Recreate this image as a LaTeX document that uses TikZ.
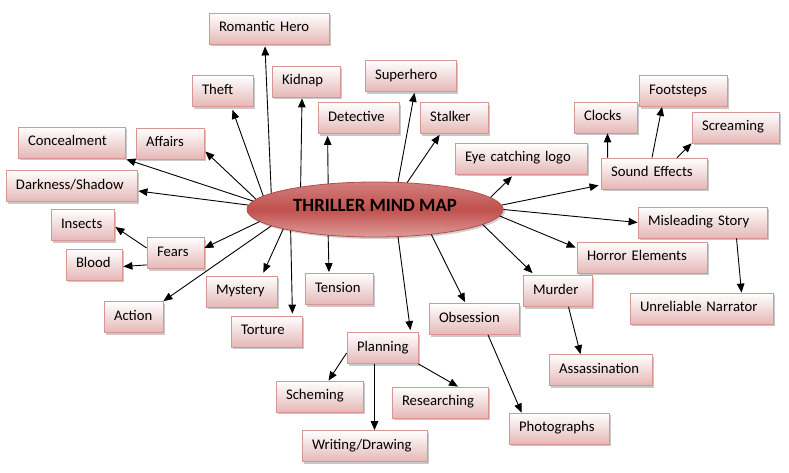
\documentclass[tikz,border=0pt]{standalone}
\usepackage{fontspec}
\setmainfont{Carlito}
\usetikzlibrary{arrows.meta,shapes.geometric,shadows}
\definecolor{edge}{HTML}{D99594}
\definecolor{pinkbot}{HTML}{E5B8B7}
\definecolor{ellTop}{HTML}{D2807E}
\definecolor{ellMid}{HTML}{C0504D}
\definecolor{ellBot}{HTML}{DE9C9A}
\definecolor{ellLine}{HTML}{B0504D}
\newcommand{\topicfont}{\fontsize{14.7}{17}\selectfont}
\tikzset{
  topic/.style={draw=edge,line width=0.8pt,top color=white,bottom color=pinkbot,
    minimum height=31pt,inner xsep=10pt,inner ysep=0pt,align=left,font=\topicfont,
    text height=10pt,text depth=4pt,
    drop shadow={shadow xshift=2pt,shadow yshift=-2pt,fill=black!30,opacity=0.7}},
  link/.style={line width=0.9pt,-{Triangle[length=9pt,width=7.5pt]}}
}

\begin{document}
\begin{tikzpicture}[x=1pt,y=-1pt]
  \useasboundingbox (0,0) rectangle (789,472);
  \node[ellipse,draw=ellLine,line width=0.8pt,top color=ellTop,bottom color=ellBot,middle color=ellMid,
    minimum width=256pt,minimum height=55pt,inner sep=0pt,text depth=8pt,
    font=\fontsize{18.7}{20}\selectfont\bfseries,
    drop shadow={shadow xshift=2pt,shadow yshift=-2pt,fill=black!30,opacity=0.6}] (c) at (375,209.5) {THRILLER MIND MAP};
  % top row
  \node[topic,text width=100pt] (rh) at (269,28.5) {Romantic Hero};
  \node[topic,text width=41pt] (theft) at (222.5,91) {Theft};
  \node[topic,text width=48pt] (kid) at (306,81.5) {Kidnap};
  \node[topic,text width=71pt] (sup) at (410.5,76) {Superhero};
  \node[topic,text width=61pt] (det) at (358.5,118) {Detective};
  \node[topic,text width=48pt] (stalk) at (454,118) {Stalker};
  % left side
  \node[topic,text width=87pt] (conc) at (71.5,142.5) {Concealment};
  \node[topic,text width=48pt] (aff) at (170,143.5) {Affairs};
  \node[topic,text width=111pt] (dark) at (71.5,186) {Darkness/Shadow};
  \node[topic,text width=43pt] (ins) at (82.5,225) {Insects};
  \node[topic,text width=36pt] (blood) at (94,264.5) {Blood};
  \node[topic,text width=37pt] (fears) at (175.5,253) {Fears};
  \node[topic,text width=39pt] (act) at (133.5,317) {Action};
  \node[topic,text width=51pt] (mys) at (241.5,291.5) {Mystery};
  \node[topic,text width=51pt] (tort) at (266.5,331.5) {Torture};
  \node[topic,text width=48pt] (tens) at (339,289) {Tension};
  % right side
  \node[topic,text width=112pt] (eye) at (521,158.5) {Eye catching logo};
  \node[topic,text width=43pt] (clk) at (605.5,117.5) {Clocks};
  \node[topic,text width=68pt] (foot) at (683,91) {Footsteps};
  \node[topic,text width=67pt] (scr) at (735.5,127.5) {Screaming};
  \node[topic,text width=86pt] (snd) at (654,173.5) {Sound Effects};
  \node[topic,text width=109pt] (mis) at (702.5,222.5) {Misleading Story};
  \node[topic,text width=110pt] (hor) at (642,257.5) {Horror Elements};
  \node[topic,text width=49pt] (mur) at (557.5,291) {Murder};
  \node[topic,text width=123pt] (unr) at (701.5,308.5) {Unreliable Narrator};
  \node[topic,text width=83pt] (ass) at (600.5,370) {Assassination};
  \node[topic,text width=70pt] (obs) at (474,319) {Obsession};
  \node[topic,text width=80pt] (pho) at (559,428.5) {Photographs};
  % bottom
  \node[topic,text width=51pt] (plan) at (382.5,348) {Planning};
  \node[topic,text width=67pt] (sch) at (319.5,396.5) {Scheming};
  \node[topic,text width=76pt] (res) at (440,402.5) {Researching};
  \node[topic,text width=105pt] (wri) at (364.5,446) {Writing/Drawing};

  % spokes from the centre
  \draw[link] (c.176) -- ([shift={(1,1)}]conc.south east);
  \draw[link] (c.178) -- ([shift={(1,5)}]dark.east);
  \draw[link] (c.175) -- ([shift={(1,8)}]aff.east);
  \draw[link] (c.173) -- ([shift={(10,3)}]theft.south);
  \draw[link] (c.171) -- ([shift={(-4,2)}]rh.south);
  \draw[link] (c.163) -- ([shift={(-4,1)}]kid.south);
  \draw[link] (c.151) -- ([shift={(10,2)}]det.south west);
  \draw[link] (c.50) -- ([shift={(4,1)}]sup.south);
  \draw[link] (c.40) -- ([shift={(20,1)}]stalk.south west);
  \draw[link] (c.6) -- ([shift={(-9,2)}]eye.south);
  \draw[link] (c.2) -- ([shift={(-2,-4)}]snd.south west);
  \draw[link] (c.east) -- (mis.west);
  \draw[link] (c.357) -- ([shift={(-1,6)}]hor.north west);
  \draw[link] (c.352) -- ([shift={(10,-2)}]mur.north west);
  \draw[link] (c.336) -- ([shift={(-9,-1)}]obs.north);
  \draw[link] (c.310) -- ([shift={(-8,-2)}]plan.north east);
  \draw[link] (c.209) -- ([shift={(-10,-1)}]tens.north);
  \draw[link] (c.194) -- ([shift={(-10,-2)}]tort.north east);
  \draw[link] (c.192) -- ([shift={(-14,-3)}]mys.north east);
  \draw[link] (c.189) -- (act.north east);
  \draw[link] (c.186) -- ([shift={(0,-5)}]fears.east);
  % second level
  \draw[link] ([shift={(0,-5)}]fears.west) -- ([shift={(1,2)}]ins.east);
  \draw[link] ([shift={(0,-4)}]fears.south west) -- ([shift={(1,2)}]blood.east);
  \draw[link] ([shift={(0,5)}]plan.west) -- ([shift={(9,0)}]sch.north);
  \draw[link] ([shift={(-8,0)}]plan.south) -- ([shift={(10,0)}]wri.north);
  \draw[link] (plan.south east) -- ([shift={(18,0)}]res.north);
  \draw[link] ([shift={(14,0)}]obs.south) -- ([shift={(13,0)}]pho.north west);
  \draw[link] ([shift={(11,0)}]mur.south) -- ([shift={(-20,0)}]ass.north);
  \draw[link] ([shift={(34,0)}]mis.south) -- ([shift={(40,0)}]unr.north);
  \draw[link] ([shift={(7,0)}]snd.north west) -- ([shift={(2,0)}]clk.south);
  \draw[link] ([shift={(-2,0)}]snd.north) -- ([shift={(-21,0)}]foot.south);
  \draw[link] ([shift={(23,0)}]snd.north) -- (scr.south west);
\end{tikzpicture}
\end{document}
